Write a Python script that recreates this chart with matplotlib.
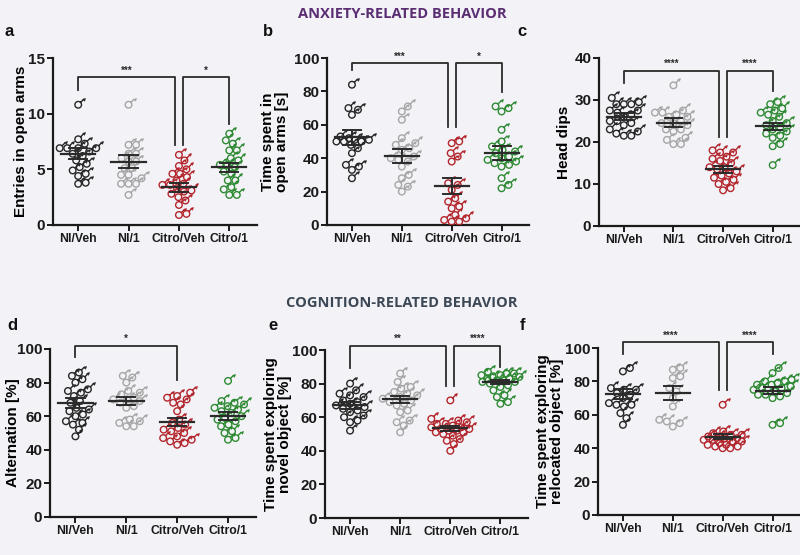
import matplotlib
matplotlib.use("Agg")
import matplotlib.pyplot as plt
import numpy as np
from matplotlib.path import Path

# groups and colours
GROUPS = ["NI/Veh", "NI/1", "Citro/Veh", "Citro/1"]
COLORS = ["#262626", "#a6a6a6", "#b3262d", "#2f8a34"]

# a: entries in open arms
entries_open_arms = [
    [10.8, 7.7, 7.3, 6.9, 6.9, 6.9, 6.9, 6.6, 6.4, 6.2, 5.8, 5.5, 5.2, 4.9, 4.6, 4.4, 3.8, 3.7],
    [10.8, 7.2, 7.2, 6.4, 6.4, 6.0, 5.7, 5.7, 5.1, 5.1, 4.5, 4.5, 4.2, 3.7, 3.7, 3.7, 2.7],
    [6.3, 5.8, 5.3, 5.0, 4.6, 4.6, 4.3, 4.0, 3.7, 3.6, 3.6, 3.3, 3.1, 3.0, 2.8, 2.5, 2.2, 1.8, 1.0, 0.9],
    [8.2, 7.6, 7.3, 6.7, 6.7, 6.0, 5.8, 5.4, 5.4, 5.2, 4.8, 4.6, 4.0, 4.0, 3.4, 3.2, 2.7, 2.7],
]
entries_mean = [6.4, 5.7, 3.4, 5.2]
entries_sem = [0.5, 0.55, 0.4, 0.4]

# b: time spent in open arms
time_open_arms = [
    [84, 70, 69, 66, 53, 52, 51, 51, 50, 50, 50, 48, 46, 43, 36, 35, 33, 28],
    [71, 68, 63, 52, 49, 48, 46, 45, 41, 40, 39, 38, 35, 30, 28, 24, 23, 20],
    [50, 49, 43, 41, 38, 25, 24, 21, 16, 14, 11, 10, 6, 4, 3, 2, 2],
    [71, 70, 68, 57, 50, 47, 45, 44, 43, 41, 40, 39, 38, 37, 36, 35, 28, 24, 22],
]
time_open_mean = [52.5, 41.5, 23.4, 43.3]
time_open_sem = [4.3, 4.3, 5.0, 4.2]

# c: head dips
head_dips = [
    [30.5, 29.5, 29, 29, 29, 27.5, 27.5, 27, 26.5, 26, 25, 25, 24.5, 24, 23, 22.5, 22, 21.5, 21.5],
    [33.5, 27.5, 27, 27, 26.5, 26, 26, 25, 24.5, 24.5, 24, 23, 23, 22.5, 21, 20.5, 19.5, 19.5],
    [18, 17.5, 17.5, 16.5, 16, 15.5, 15, 14, 14, 13.5, 13, 12.5, 12, 11.5, 11, 10.5, 10, 9, 8.5],
    [29.5, 29, 28, 27.5, 27, 26.5, 26, 25, 24.5, 24, 23.5, 23, 22.5, 22, 21.5, 21, 19.5, 19, 14.5],
]
head_dips_mean = [26.0, 24.6, 13.5, 23.7]
head_dips_sem = [0.8, 1.0, 0.8, 0.8]

# d: alternation
alternation = [
    [86, 84, 82, 80, 76, 75, 74, 72, 69, 68, 65, 64, 63, 61, 60, 57, 56, 55, 52, 48],
    [84, 83, 80, 75, 74, 73, 71, 70, 70, 69, 68, 66, 65, 58, 57, 56, 54, 54],
    [74, 72, 71, 70, 68, 67, 63, 58, 56, 55, 53, 52, 51, 50, 48, 47, 46, 45, 44, 43],
    [81, 69, 68, 67, 66, 65, 64, 63, 62, 60, 59, 58, 57, 55, 54, 51, 50, 47, 46],
]
alternation_mean = [67.7, 69.0, 56.7, 60.1]
alternation_sem = [3.0, 2.3, 2.5, 2.5]

# e: novel object exploration
novel_object = [
    [80, 76, 74, 73, 72, 70, 69, 68, 67, 66, 65, 64, 63, 61, 60, 58, 57, 52],
    [86, 81, 78, 77, 75, 74, 73, 72, 71, 70, 69, 68, 67, 64, 63, 58, 57, 55, 51],
    [70, 59, 58, 57, 56, 56, 55, 54, 54, 53, 53, 52, 52, 51, 51, 50, 49, 47, 46, 44, 40],
    [87, 86, 86, 85, 85, 84, 84, 83, 83, 82, 82, 81, 81, 80, 79, 78, 76, 73, 72, 69, 68],
]
novel_mean = [67.0, 70.6, 53.4, 81.1]
novel_sem = [2.0, 2.3, 1.5, 1.2]

# f: relocated object exploration
relocated_object = [
    [88, 86, 76, 75, 75, 73, 72, 70, 67, 66, 66, 65, 61, 58, 54],
    [88, 87, 83, 82, 76, 74, 70, 65, 57, 56, 55, 53],
    [66, 50, 49, 48, 48, 47, 47, 46, 46, 45, 45, 44, 44, 43, 42, 42, 41, 41, 40, 40],
    [88, 85, 81, 80, 80, 79, 78, 78, 77, 76, 76, 75, 74, 73, 72, 72, 71, 70, 55, 54],
]
relocated_mean = [72.6, 73.0, 47.0, 74.4]
relocated_sem = [3.0, 4.0, 1.5, 2.0]

BG = "#f3f3f7"
INK = "#2b2b2b"
FONT = "Liberation Sans"
W, H = 800, 555


def male_paths():
    circ = Path.circle((0, 0), 1.0)
    stem = Path([(0.71, 0.71), (1.75, 1.75)], [Path.MOVETO, Path.LINETO])
    head = Path([(2.1, 2.1), (1.3, 1.85), (1.85, 1.3), (2.1, 2.1)],
                [Path.MOVETO, Path.LINETO, Path.LINETO, Path.CLOSEPOLY])
    # keep the same extent so both parts scale alike
    anchor = Path([(2.1, 2.1), (2.1, 2.1)], [Path.MOVETO, Path.LINETO])
    body = Path.make_compound_path(circ, stem, anchor)
    return body, head


def swarm(values, px_y, px_x, dist=7.5, max_half=19.0):
    vals = np.asarray(values, dtype=float)
    order = np.argsort(vals)
    placed = []
    offs = np.zeros(len(vals))
    cands = [0.0]
    for k in np.arange(0.5, max_half + 0.01, 0.5):
        cands += [k, -k]
    for i in order:
        y = vals[i] * px_y
        best, best_d = 0.0, -1.0
        for x in cands:
            d = min([np.hypot(x - px, y - py) for px, py in placed] or [1e9])
            if d >= dist:
                best = x
                break
            if d > best_d:
                best, best_d = x, d
        placed.append((best, y))
        offs[i] = best / px_x
    return offs


def axes_rect(left, top, bottom, width):
    return [left / W, (H - bottom) / H, width / W, (bottom - top) / H]


def draw_panel(fig, rect, data, means, sems, ylim, yticks, ylabel, label_right, brackets):
    ax = fig.add_axes(rect)
    ax.set_facecolor(BG)
    xlim = (-0.5, 3.55)
    ax.set_xlim(*xlim)
    ax.set_ylim(*ylim)
    px_x = rect[2] * W / (xlim[1] - xlim[0])
    px_y = rect[3] * H / (ylim[1] - ylim[0])
    body, head = male_paths()
    for i, vals in enumerate(data):
        xs = i + swarm(vals, px_y, px_x)
        ax.scatter(xs, vals, marker=body, s=100, facecolors="none",
                   edgecolors=COLORS[i], linewidths=1.0, zorder=3)
        ax.scatter(xs, vals, marker=head, s=100, facecolors=COLORS[i],
                   edgecolors=COLORS[i], linewidths=0.5, zorder=3)
        m, e = means[i], sems[i]
        ax.plot([i - 0.34, i + 0.34], [m, m], color=INK, lw=1.6, zorder=4)
        ax.plot([i - 0.18, i + 0.18], [m + e, m + e], color=INK, lw=1.4, zorder=4)
        ax.plot([i - 0.18, i + 0.18], [m - e, m - e], color=INK, lw=1.4, zorder=4)
        ax.plot([i, i], [m - e, m + e], color=INK, lw=1.4, zorder=4)

    for x1, x2, ytop, yl, yr, label in brackets:
        ax.plot([x1, x1, x2, x2], [yl, ytop, ytop, yr], color=INK, lw=1.3,
                clip_on=False, zorder=2)
        ax.annotate(label, xy=((x1 + x2) / 2, ytop), xytext=(0, 1),
                    textcoords="offset points", ha="center", va="bottom",
                    fontsize=7, fontweight="bold", color=INK, family=FONT,
                    annotation_clip=False)

    ax.set_xticks(range(len(GROUPS)))
    ax.set_xticklabels(GROUPS, fontsize=8.8, fontweight="bold", family=FONT)
    ax.set_yticks(yticks)
    ax.set_yticklabels([str(t) for t in yticks], fontsize=11, fontweight="bold",
                       family=FONT)
    ax.set_ylabel(ylabel, fontsize=11, fontweight="bold", family=FONT, linespacing=1.0)
    ax.yaxis.set_label_coords((label_right - rect[0] * W) / (rect[2] * W), 0.5)
    for side in ("top", "right"):
        ax.spines[side].set_visible(False)
    for side in ("left", "bottom"):
        ax.spines[side].set_linewidth(1.6)
        ax.spines[side].set_color("#1a1a1a")
    ax.tick_params(direction="out", length=4, width=1.4, colors="#1a1a1a", pad=1.5)
    return ax


def main():
    fig = plt.figure(figsize=(8, 5.55), dpi=100, facecolor=BG)

    draw_panel(fig, axes_rect(53, 58, 225, 204), entries_open_arms, entries_mean,
               entries_sem, (0, 15), [0, 5, 10, 15], "Entries in open arms", 28,
               [(0, 1.92, 13.3, 12.1, 7.2, "***"), (2.08, 3, 13.3, 7.2, 9.1, "*")])
    draw_panel(fig, axes_rect(327, 58, 225, 202), time_open_arms, time_open_mean,
               time_open_sem, (0, 100), [0, 20, 40, 60, 80, 100],
               "Time spent in\nopen arms [s]", 289,
               [(0, 1.92, 96.8, 92.8, 58.9, "***"), (2.08, 3, 96.8, 58.9, 79.8, "*")])
    draw_panel(fig, axes_rect(599, 58, 226, 201), head_dips, head_dips_mean,
               head_dips_sem, (0, 40), [0, 10, 20, 30, 40], "Head dips", 571,
               [(0, 1.92, 37, 34, 21.3, "****"), (2.08, 3, 37, 21.3, 32.2, "****")])
    draw_panel(fig, axes_rect(50, 349, 517, 206), alternation, alternation_mean,
               alternation_sem, (0, 100), [0, 20, 40, 60, 80, 100], "Alternation [%]", 20,
               [(0, 2, 102, 95, 81.5, "*")])
    draw_panel(fig, axes_rect(325, 350, 518, 203), novel_object, novel_mean,
               novel_sem, (0, 100), [0, 20, 40, 60, 80, 100],
               "Time spent exploring\nnovel object [%]", 292,
               [(0, 1.92, 102.6, 89, 78.6, "**"), (2.08, 3, 102.6, 78.6, 90, "****")])
    draw_panel(fig, axes_rect(598, 348, 515, 202), relocated_object, relocated_mean,
               relocated_sem, (0, 100), [0, 20, 40, 60, 80, 100],
               "Time spent exploring\nrelocated object [%]", 564,
               [(0, 1.92, 103.6, 96.4, 75, "****"), (2.08, 3, 103.6, 75, 96.4, "****")])

    fig.text(402 / W, 1 - 14 / H, "ANXIETY-RELATED BEHAVIOR", ha="center", va="center",
             fontsize=10.5, fontweight="bold", color="#5b2d72", family="Open Sans")
    fig.text(402 / W, 1 - 303 / H, "COGNITION-RELATED BEHAVIOR", ha="center", va="center",
             fontsize=10.5, fontweight="bold", color="#3c4856", family="Open Sans")

    for letter, x, y in [("a", 9, 32), ("b", 268, 32), ("c", 522, 32),
                         ("d", 12, 325), ("e", 273, 325), ("f", 522, 325)]:
        fig.text(x / W, 1 - y / H, letter, ha="center", va="center",
                 fontsize=12, fontweight="bold", color="#111111", family=FONT)

    fig.savefig("out.png", dpi=100, facecolor=BG)


if __name__ == "__main__":
    main()
